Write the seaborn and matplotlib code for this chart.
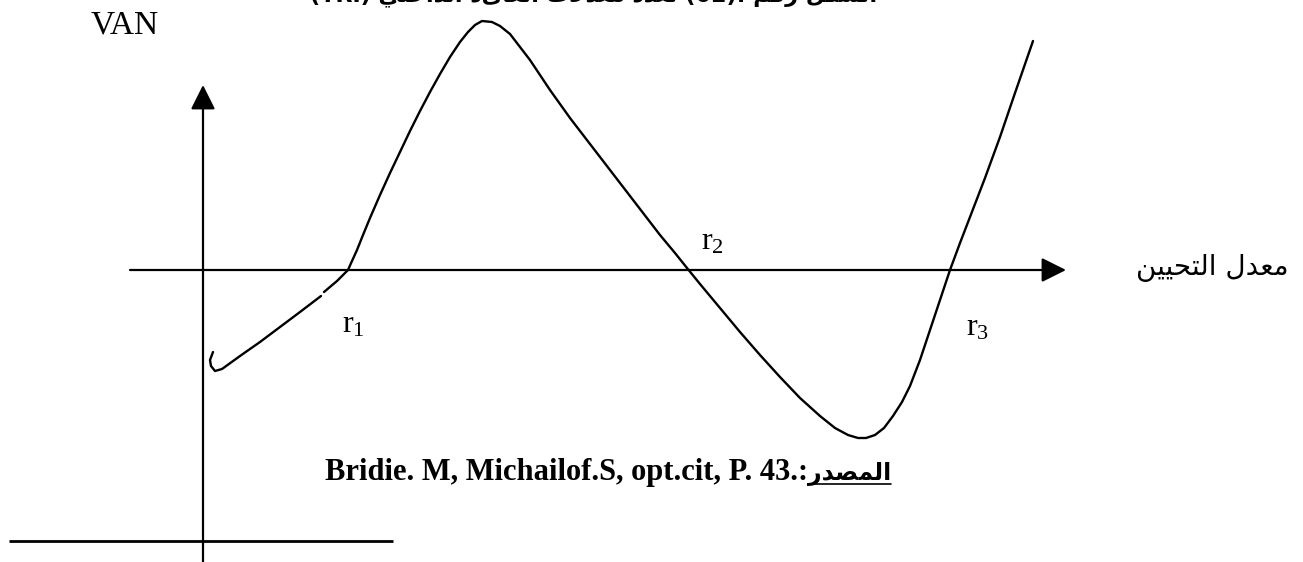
import matplotlib
matplotlib.use("Agg")
import matplotlib.pyplot as plt
import numpy as np
import pandas as pd
import seaborn as sns

# ---------------------------------------------------------------------------
# NPV profile with several internal rates of return (r1, r2, r3).
# Horizontal: discount rate, vertical: VAN (net present value), arbitrary units.
# The curve is split in two pieces (small break just below r1).
# ---------------------------------------------------------------------------
rate_part1 = [10, 7, 8, 12, 19, 37, 57, 77, 97, 118]
van_part1 = [-82, -90, -96, -101, -99, -86, -72, -57, -42, -26]

rate_part2 = [121, 134, 145, 149, 154, 160, 167, 177, 187, 197, 207, 217, 227,
              237, 247, 257, 265, 272, 279, 289, 297, 307, 317, 327, 337, 347,
              357, 367, 377, 397, 417, 437, 457, 472, 484, 497, 517, 537, 557,
              577, 597, 617, 632, 645, 655, 663, 672, 681, 690, 699, 707, 717,
              727, 737, 747, 757, 767, 782, 797, 812, 830]
van_part2 = [-22, -11, 0, 9, 20, 35, 52, 75, 97, 118, 139, 159, 178, 196, 213,
             228, 238, 245, 249, 248, 244, 236, 223, 210, 195, 180, 166, 152,
             139, 113, 87, 61, 35, 17, 2, -14, -38, -62, -85, -107, -128, -146,
             -158, -165, -168, -168, -165, -158, -146, -132, -116, -90, -60,
             -30, 0, 27, 53, 92, 133, 177, 229]

root_labels = ["r$_1$", "r$_2$", "r$_3$"]
y_axis_label = "VAN"
x_axis_label = "معدل التحيين"
source_latin = "Bridie. M, Michailof.S, opt.cit, P. 43.:"
source_arabic = "المصدر"
title_text = ["الشكل", "رقم", "(02):", "تعدد", "معدلات", "العائد", "الداخلي", "(TRI)"]

# ---------------------------------------------------------------------------
# Minimal Arabic shaping (presentation forms) so glyphs join correctly.
# ---------------------------------------------------------------------------
FORMS = {
    'ا': (0xFE8D, 0xFE8E, None, None), 'ب': (0xFE8F, 0xFE90, 0xFE91, 0xFE92),
    'ة': (0xFE93, 0xFE94, None, None), 'ت': (0xFE95, 0xFE96, 0xFE97, 0xFE98),
    'ث': (0xFE99, 0xFE9A, 0xFE9B, 0xFE9C), 'ج': (0xFE9D, 0xFE9E, 0xFE9F, 0xFEA0),
    'ح': (0xFEA1, 0xFEA2, 0xFEA3, 0xFEA4), 'خ': (0xFEA5, 0xFEA6, 0xFEA7, 0xFEA8),
    'د': (0xFEA9, 0xFEAA, None, None), 'ذ': (0xFEAB, 0xFEAC, None, None),
    'ر': (0xFEAD, 0xFEAE, None, None), 'ز': (0xFEAF, 0xFEB0, None, None),
    'س': (0xFEB1, 0xFEB2, 0xFEB3, 0xFEB4), 'ش': (0xFEB5, 0xFEB6, 0xFEB7, 0xFEB8),
    'ص': (0xFEB9, 0xFEBA, 0xFEBB, 0xFEBC), 'ض': (0xFEBD, 0xFEBE, 0xFEBF, 0xFEC0),
    'ط': (0xFEC1, 0xFEC2, 0xFEC3, 0xFEC4), 'ظ': (0xFEC5, 0xFEC6, 0xFEC7, 0xFEC8),
    'ع': (0xFEC9, 0xFECA, 0xFECB, 0xFECC), 'غ': (0xFECD, 0xFECE, 0xFECF, 0xFED0),
    'ف': (0xFED1, 0xFED2, 0xFED3, 0xFED4), 'ق': (0xFED5, 0xFED6, 0xFED7, 0xFED8),
    'ك': (0xFED9, 0xFEDA, 0xFEDB, 0xFEDC), 'ل': (0xFEDD, 0xFEDE, 0xFEDF, 0xFEE0),
    'م': (0xFEE1, 0xFEE2, 0xFEE3, 0xFEE4), 'ن': (0xFEE5, 0xFEE6, 0xFEE7, 0xFEE8),
    'ه': (0xFEE9, 0xFEEA, 0xFEEB, 0xFEEC), 'و': (0xFEED, 0xFEEE, None, None),
    'ى': (0xFEEF, 0xFEF0, None, None), 'ي': (0xFEF1, 0xFEF2, 0xFEF3, 0xFEF4),
    'LA': (0xFEFB, 0xFEFC, None, None),
}


def shape_word(word):
    tokens = []
    i = 0
    while i < len(word):
        if word[i] == 'ل' and i + 1 < len(word) and word[i + 1] == 'ا':
            tokens.append('LA')
            i += 2
        else:
            tokens.append(word[i])
            i += 1
    out = []
    for k, t in enumerate(tokens):
        if t not in FORMS:
            out.append(t)
            continue
        prev = tokens[k - 1] if k > 0 else None
        nxt = tokens[k + 1] if k + 1 < len(tokens) else None
        dual = FORMS[t][2] is not None
        join_prev = prev in FORMS and FORMS[prev][2] is not None
        join_next = dual and nxt in FORMS
        iso, fin, ini, med = FORMS[t]
        if join_prev and join_next:
            code = med
        elif join_prev:
            code = fin
        elif join_next:
            code = ini
        else:
            code = iso
        out.append(chr(code))
    return "".join(reversed(out))


def is_arabic(word):
    return any('\u0600' <= c <= '\u06FF' for c in word)


def rtl_line(words):
    shown = [shape_word(w) if is_arabic(w) else w for w in words]
    return " ".join(reversed(shown))


# ---------------------------------------------------------------------------
sns.set_theme(style="white")
plt.rcParams["font.family"] = ["Liberation Serif", "DejaVu Sans"]
plt.rcParams["mathtext.fontset"] = "custom"
plt.rcParams["mathtext.rm"] = "Liberation Serif"
plt.rcParams["mathtext.it"] = "Liberation Serif"

W, H = 1303, 562
fig = plt.figure(figsize=(W / 100, H / 100), dpi=100)
ax = fig.add_axes([0, 0, 1, 1])
ax.set_xlim(-203, 1100)
ax.set_ylim(-292, 270)
ax.axis("off")

ink = "black"

# NPV curve
df1 = pd.DataFrame({"rate": rate_part1, "van": van_part1})
df2 = pd.DataFrame({"rate": rate_part2, "van": van_part2})
for d in (df1, df2):
    sns.lineplot(data=d, x="rate", y="van", sort=False, estimator=None,
                 color=ink, lw=1.7, ax=ax)
for ln in ax.lines:
    ln.set_solid_joinstyle("round")
    ln.set_solid_capstyle("round")

# Axes with arrow heads
arrow = dict(arrowstyle="-|>,head_length=1.0,head_width=0.5", color=ink,
             lw=1.6, shrinkA=0, shrinkB=0, mutation_scale=15)
ax.annotate("", xy=(863, 0), xytext=(-73, 0), arrowprops=arrow)
ax.annotate("", xy=(0, 185), xytext=(0, -292), arrowprops=arrow)

# short baseline at the bottom left
ax.plot([-194, 190], [-271, -271], color=ink, lw=2.0, solid_capstyle="butt")

# Labels
ax.text(-78, 245, y_axis_label, fontsize=24, ha="center", va="center", color=ink)
root_pos = [(150, -55), (509, 28), (775, -58)]
for lab, (x, y) in zip(root_labels, root_pos):
    ax.text(x, y, lab, fontsize=23, ha="center", va="center", color=ink)

ax.text(1086, 2, rtl_line(x_axis_label.split()), fontsize=20, ha="right",
        va="center", color=ink, family=["DejaVu Sans"])

# Heading above the drawing area (only its lowest strokes fall inside)
ax.text(391, 269, rtl_line(title_text), fontsize=16, ha="center",
        va="baseline", color=ink, fontweight="bold", family=["DejaVu Sans"])

# Source line, Arabic word underlined
t_lat = ax.text(122, -210, source_latin, fontsize=22, fontweight="bold",
                ha="left", va="baseline", color=ink)
fig.canvas.draw()
renderer = fig.canvas.get_renderer()
bb = t_lat.get_window_extent(renderer)
inv = ax.transData.inverted()
x_end = inv.transform((bb.x1, bb.y0))[0]
t_ar = ax.text(x_end, -210, shape_word(source_arabic), fontsize=17,
               fontweight="bold", ha="left", va="baseline", color=ink,
               family=["DejaVu Sans"])
fig.canvas.draw()
bb2 = t_ar.get_window_extent(renderer)
xa0 = inv.transform((bb2.x0, 0))[0]
xa1 = inv.transform((bb2.x1, 0))[0]
ax.plot([xa0, xa1], [-214, -214], color=ink, lw=1.2)

fig.savefig("out.png", dpi=100)
